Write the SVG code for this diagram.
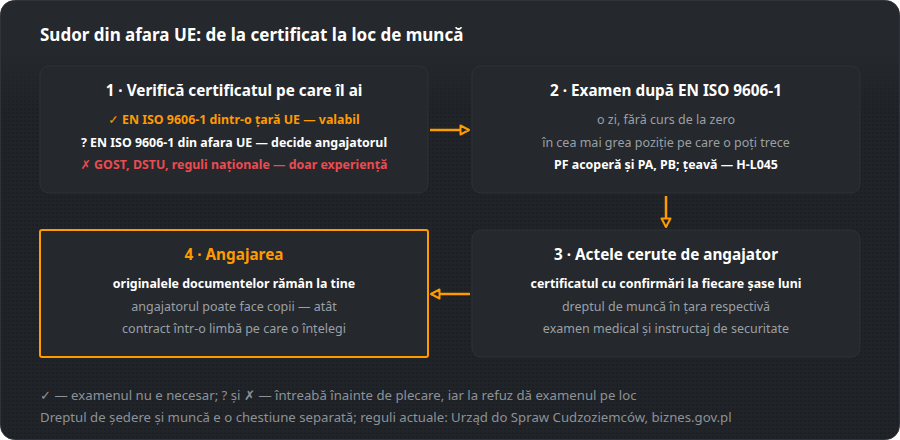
<svg xmlns="http://www.w3.org/2000/svg" width="900" height="440" viewBox="0 0 900 440">
<defs>
<pattern id="dots" width="4" height="4" patternUnits="userSpaceOnUse">
<rect x="0" y="0" width="2" height="2" fill="#1c1f23"/>
</pattern>
<linearGradient id="fade" x1="0" y1="0" x2="0" y2="1">
<stop offset="0" stop-color="#25282c" stop-opacity="1"/>
<stop offset="0.11" stop-color="#25282c" stop-opacity="1"/>
<stop offset="0.25" stop-color="#25282c" stop-opacity="0"/>
<stop offset="1" stop-color="#25282c" stop-opacity="0"/>
</linearGradient>
<marker id="ah" viewBox="0 0 12 12" refX="10" refY="6" markerWidth="12" markerHeight="12" markerUnits="userSpaceOnUse" orient="auto">
<path d="M1.5,1.5 L10,6 L1.5,10.5 Z" fill="#202327" stroke="#ff9a00" stroke-width="2" stroke-linejoin="round"/>
</marker>
<style>
text{font-family:"Noto Sans","Open Sans","DejaVu Sans",sans-serif;}
.box{fill:#25282c;stroke:#2f3338;stroke-width:1;}
.hl{fill:#25282c;stroke:#ff9a00;stroke-width:2;}
.t{font-size:15.3px;font-weight:700;fill:#ffffff;text-anchor:middle;}
.b{font-size:12.4px;font-weight:700;fill:#ffffff;text-anchor:middle;}
.g{font-size:12.5px;fill:#9aa0a6;text-anchor:middle;}
.o{fill:#ff9a00;}
.r{fill:#ec4b50;}
.f{font-size:13.2px;fill:#8d9298;}
.c{fill:none;stroke:#ff9a00;stroke-width:2.5;}
</style>
</defs>
<rect x="0.5" y="0.5" width="899" height="439" rx="14" fill="#202327" stroke="#30343a"/>
<rect x="1" y="1" width="898" height="438" rx="14" fill="url(#dots)"/>
<rect x="1" y="1" width="898" height="438" rx="14" fill="url(#fade)"/>
<text x="40" y="41" style="font-size:17px;font-weight:700;fill:#ffffff;">Sudor din afara UE: de la certificat la loc de muncă</text>
<g id="node1">
<rect class="box" x="40" y="66" width="388" height="127" rx="9"/>
<text class="t" x="234" y="96">1 · Verifică certificatul pe care îl ai</text>
<text class="b o" x="234" y="124">✓ EN ISO 9606-1 dintr-o țară UE — valabil</text>
<text class="b" x="234" y="147">? EN ISO 9606-1 din afara UE — decide angajatorul</text>
<text class="b r" x="234" y="169">✗ GOST, DSTU, reguli naționale — doar experiență</text>
</g>
<g id="node2">
<rect class="box" x="472" y="66" width="388" height="127" rx="9"/>
<text class="t" x="666" y="96">2 · Examen după EN ISO 9606-1</text>
<text class="g" x="666" y="124">o zi, fără curs de la zero</text>
<text class="g" x="666" y="147">în cea mai grea poziție pe care o poți trece</text>
<text class="b" x="666" y="169">PF acoperă și PA, PB; țeavă — H-L045</text>
</g>
<g id="node3">
<rect class="box" x="472" y="230" width="388" height="127" rx="9"/>
<text class="t" x="666" y="260">3 · Actele cerute de angajator</text>
<text class="b" x="666" y="288">certificatul cu confirmări la fiecare șase luni</text>
<text class="g" x="666" y="311">dreptul de muncă în țara respectivă</text>
<text class="g" x="666" y="333">examen medical și instructaj de securitate</text>
</g>
<g id="node4">
<rect class="hl" x="40" y="230" width="388" height="127" rx="2"/>
<text class="t o" x="234" y="260">4 · Angajarea</text>
<text class="b" x="234" y="288">originalele documentelor rămân la tine</text>
<text class="g" x="234" y="311">angajatorul poate face copii — atât</text>
<text class="g" x="234" y="333">contract într-o limbă pe care o înțelegi</text>
</g>
<g id="connectors">
<path class="c" d="M430,130 L469,130" marker-end="url(#ah)"/>
<path class="c" d="M666,196 L666,227" marker-end="url(#ah)"/>
<path class="c" d="M470,294 L431,294" marker-end="url(#ah)"/>
</g>
<text class="f" x="40" y="400">✓ — examenul nu e necesar; ? și ✗ — întreabă înainte de plecare, iar la refuz dă examenul pe loc</text>
<text class="f" x="40" y="422">Dreptul de ședere și muncă e o chestiune separată; reguli actuale: Urząd do Spraw Cudzoziemców, biznes.gov.pl</text>
</svg>
